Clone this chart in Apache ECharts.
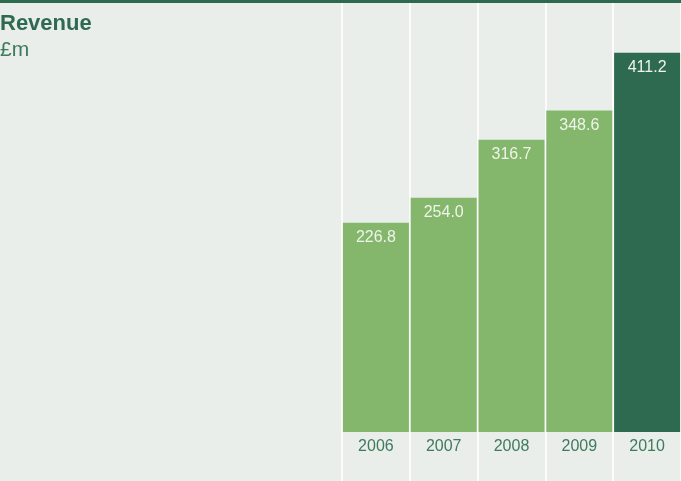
<!DOCTYPE html>
<html><head><meta charset="utf-8">
<script src="https://cdn.jsdelivr.net/npm/echarts@6/dist/echarts.min.js"></script>
<style>html,body{margin:0;padding:0;background:#e9eeeb}#c{width:681px;height:481px}</style>
</head><body><div id="c"></div>
<script>
const categories = ['2006','2007','2008','2009','2010'];
const revenue = [226.8, 254.0, 316.7, 348.6, 411.2];
const titleText = 'Revenue';
const unitText = '£m';

const FONT = '"Liberation Sans", Arial, Helvetica, sans-serif';
const chart = echarts.init(document.getElementById('c'), null, {renderer:'canvas'});
chart.setOption({
  backgroundColor: '#e9eeeb',
  animation: false,
  grid: [
    {left: 342, right: -2, top: 3, bottom: 0},
    {left: 342, right: -2, top: 3, bottom: 49}
  ],
  xAxis: [
    {
      gridIndex: 0, type: 'category', data: categories,
      axisLine: {show: false}, axisTick: {show: false}, axisLabel: {show: false},
      splitLine: {show: true, lineStyle: {color: '#fbfcfb', width: 2}}
    },
    {
      gridIndex: 1, type: 'category', data: categories,
      axisLine: {show: false}, axisTick: {show: false},
      axisLabel: {color: '#3f7a5c', fontSize: 16, fontFamily: FONT, margin: 7},
      splitLine: {show: false}
    }
  ],
  yAxis: [
    {gridIndex: 0, type: 'value', min: 0, max: 1, show: false, splitLine: {show: false}},
    {gridIndex: 1, type: 'value', min: 0, max: 465, show: false, splitLine: {show: false}}
  ],
  series: [{
    type: 'bar', xAxisIndex: 1, yAxisIndex: 1, barWidth: 66, z: 3,
    data: revenue.map((v, i) => ({value: v, itemStyle: {color: i === revenue.length - 1 ? '#2e6a50' : '#84b76b'}})),
    label: {show: true, position: 'insideTop', distance: 7, color: '#eef4ea', fontSize: 16, fontFamily: FONT,
      formatter: p => p.value.toFixed(1)}
  }],
  graphic: [
    {type: 'rect', shape: {x: 0, y: 0, width: 681, height: 3}, style: {fill: '#2e6a50'}},
    {type: 'text', left: 0, top: 13, style: {text: titleText, fill: '#2e6a50', font: 'bold 22px ' + FONT}},
    {type: 'text', left: 0, top: 40, style: {text: unitText, fill: '#3f7a5c', font: '21px ' + FONT}}
  ]
});
</script></body></html>
